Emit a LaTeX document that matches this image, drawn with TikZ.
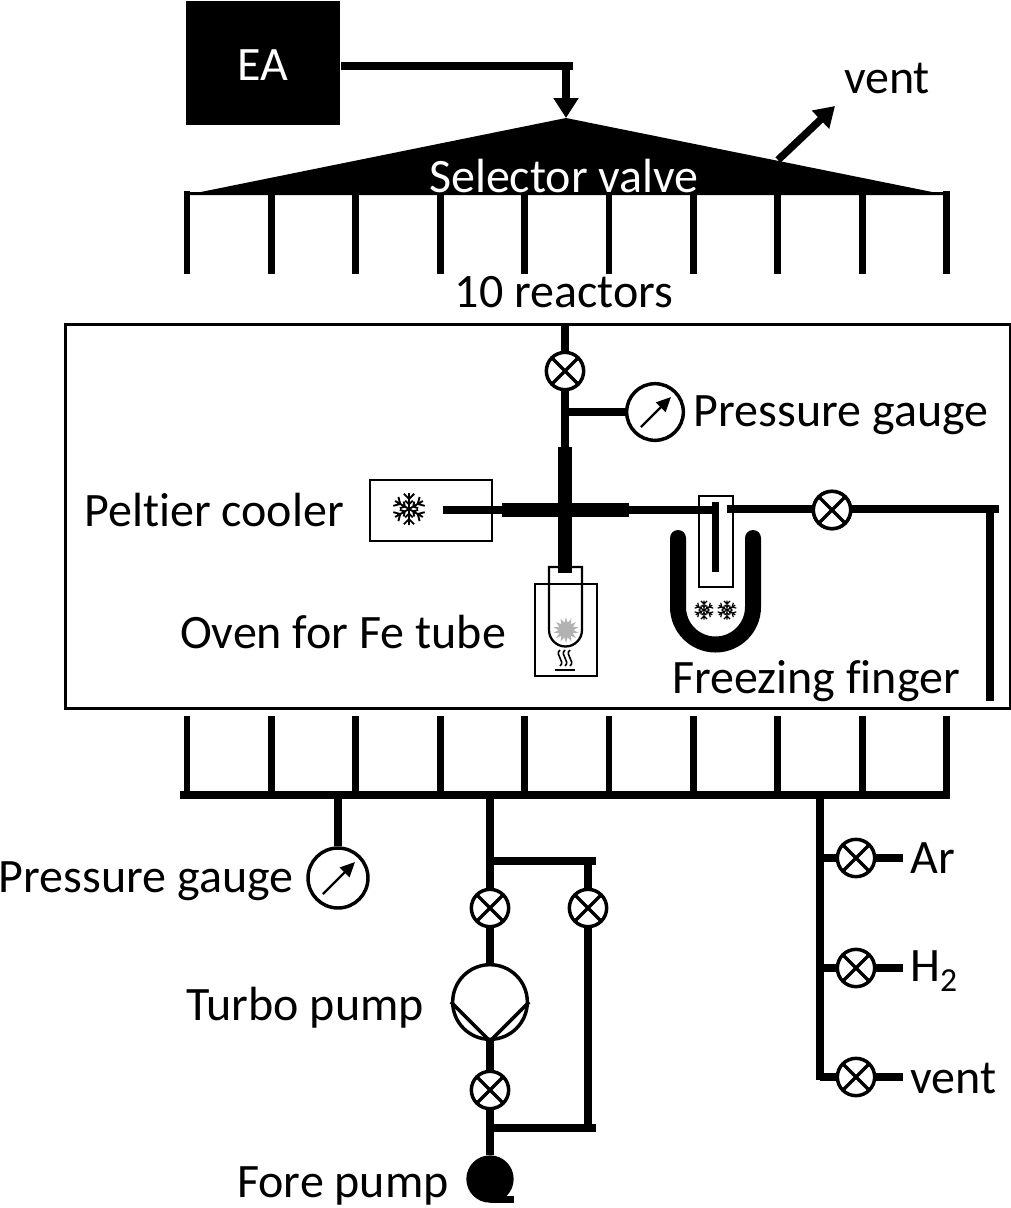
\documentclass[tikz,border=0pt]{standalone}
\usepackage{fontspec}
\setmainfont{Carlito}[Ligatures=NoCommon]
\usetikzlibrary{arrows.meta,calc,shapes.geometric}
\tikzset{
  lbl/.style={inner sep=0pt,font=\fontsize{36}{40}\selectfont},
  pipe/.style={line width=5.6pt,black},
  comb/.style={line width=5.2pt,black},
  fat pipe/.style={line width=10pt,black},
  valve/.style={circle,draw,line width=2.6pt,minimum size=28pt,inner sep=0pt,fill=white,
    path picture={\draw[line width=2.6pt] (path picture bounding box.north west)--(path picture bounding box.south east)
      (path picture bounding box.north east)--(path picture bounding box.south west);}},
  gauge/.style={circle,draw,line width=2.6pt,inner sep=0pt,fill=white},
  smallbox/.style={draw,line width=1.7pt,inner sep=0pt,anchor=north west},
  needle/.style={-{Triangle[length=11pt,width=10pt]},line width=1.8pt},
  bigtip/.style={-{Triangle[length=15pt,width=18pt]}},
  pics/snowflake/.style={code={
    \foreach \a in {0,60,...,300}{
      \draw[line width=#1,rotate=\a] (0,0) -- (0,10) (-3.2,9.5) -- (0,6.3) -- (3.2,9.5) (-2.4,5.2) -- (0,3) -- (2.4,5.2);
    }}},
}
\begin{document}
\begin{tikzpicture}[x=0.75pt,y=-0.75pt]
\useasboundingbox (0,0) rectangle (1011,1208);
% EA and selector
\node[fill=black,text=white,anchor=north west,minimum width=115.5pt,minimum height=93pt,inner sep=0pt,text height=25.5pt,text depth=0pt,font=\fontsize{36}{40}\selectfont] (ea) at (186,1) {EA};
\coordinate (eaj) at (566,66);
\coordinate (sv) at (566,118);
\draw[pipe] (ea.east |- eaj) -- (573,66);
\draw[pipe,bigtip] (566,62.5) -- (sv);
\path[fill=black] (186,195) -- (sv) -- (947,195) -- cycle;
\draw[line width=2.4pt] (186,193.5) -- (947,193.5);
\foreach \i in {0,...,9}{
  \draw[comb] ({187+84.4*\i},191) -- ({187+84.4*\i},274);
  \draw[comb] ({187+84.4*\i},716) -- ({187+84.4*\i},795);
}
\node[lbl,text=white] (selector) at (564,176) {Selector valve};
\coordinate (ventfrom) at (778,160);
\coordinate (ventto) at (835,106);
\draw[pipe,bigtip] (ventfrom) -- (ventto);
\node[lbl] (venttop) at (887,78) {vent};
\node[lbl] (reactors) at (564,292) {10 reactors};
% main box
\node[draw,line width=2.4pt,anchor=north west,minimum width=708.5pt,minimum height=288pt,inner sep=0pt] (box) at (64,323) {};
% upper line
\node[valve] (v1) at (565,371) {};
\coordinate (boxtop) at (565,323);
\draw[pipe] (boxtop) -- (v1);
\node[gauge,minimum size=42.5pt] (g1) at (655,412) {};
\draw[needle] ($(g1.center)+(-14,15)$) -- ($(g1.center)+(16,-15)$);
\coordinate (g1j) at (565,412);
\draw[pipe] (v1) -- (g1j);
\draw[pipe] (g1j) -- (g1);
\node[lbl] (pg1) at (841,415) {Pressure gauge};
% cross
\coordinate (cv1) at (565,447);
\coordinate (cv2) at (565,573);
\coordinate (ch1) at (502,510);
\coordinate (ch2) at (629,510);
\draw[pipe] (g1j) -- (cv1);
% peltier
\node[smallbox,minimum width=91.5pt,minimum height=45.75pt] (pelt) at (369,479) {};
\coordinate (peltend) at (443,510);
\draw[line width=5.6pt] (peltend) -- (ch1);
\pic[scale=1.6] at (409,509) {snowflake=1.4pt};
\node[lbl] (peltlabel) at (214,510) {Peltier cooler};
% oven
\node[smallbox,minimum width=46.5pt,minimum height=69pt] (oven) at (534,583) {};
\draw[line width=1.7pt] (549,567) -- (582,567) -- (582,630) arc[start angle=0,end angle=180,radius=16.5] -- cycle;
\draw[fat pipe] (cv1) -- (cv2);
\draw[fat pipe] (ch1) -- (ch2);
\node[star,star points=14,star point ratio=1.7,fill=black!30,minimum size=19pt,inner sep=0pt] (dust) at (566,630) {};
\foreach \dx in {-5,0,5}{
  \draw[line width=1.2pt] ({565+\dx},650) .. controls ({559+\dx},655) and ({571+\dx},661) .. ({565+\dx},666);
}
\draw[line width=1.5pt] (555,670) -- (575,670);
\node[lbl] (ovenlabel) at (343,632) {Oven for Fe tube};
% freezing finger
\draw[line width=12pt,line cap=round] (678,538) -- (678,607) arc[start angle=180,end angle=0,radius=37.5] -- (753,538);
\node[smallbox,fill=white,minimum width=25.5pt,minimum height=68pt] (trap) at (698,495) {};
\coordinate (trapin) at (715.5,510);
\draw[pipe] (ch2) -- (trapin);
\draw[line width=5.4pt] (715.5,502) -- (715.5,572);
\node[valve] (v2) at (832,510) {};
\coordinate (trapout) at (727,509);
\coordinate (rightc) at (999,509);
\coordinate (rightb) at (990,701);
\draw[pipe] (trapout) -- (trapout -| v2) -- (rightc);
\node[valve] at (v2) {};
\draw[pipe] (rightc -| rightb) -- (rightb);
\pic[scale=0.95] at (704,610) {snowflake=0.9pt};
\pic[scale=0.95] at (727,610) {snowflake=0.9pt};
\node[lbl] (fflabel) at (816,681) {Freezing finger};
% manifold
\coordinate (mL) at (180,795);
\coordinate (mR) at (950,795);
\draw[pipe] (mL) -- (mR);
% gauge 2
\node[gauge,minimum size=45pt] (g2) at (338,878) {};
\draw[needle] ($(g2.center)+(-15,16)$) -- ($(g2.center)+(17,-16)$);
\draw[pipe] (338,795) -- (g2);
\node[lbl] (pg2) at (146,881) {Pressure gauge};
% pumps
\node[valve] (v3) at (490,908) {};
\node[valve] (v4) at (588,908) {};
\node[gauge,minimum size=56pt] (tp) at (490,1002) {};
\node[valve] (v5) at (490,1090) {};
\coordinate (j1) at (490,861);
\coordinate (j1r) at (596,861);
\coordinate (j2) at (490,1128);
\coordinate (j2r) at (596,1128);
\draw[pipe] (490,795) -- (j1);
\draw[pipe] (j1) -- (v3);
\draw[pipe] (j1) -- (j1r);
\draw[pipe] (588,861) -- (v4);
\draw[pipe] (v3) -- (tp.north);
\draw[pipe] (v4) -- (588,1128);
\draw[pipe] (tp.south) -- (v5);
\draw[pipe] (v5) -- (j2);
\draw[pipe] (j2) -- (j2r);
\draw[line width=2.6pt] (tp.west) -- (tp.south) -- (tp.east);
\node[circle,fill=black,minimum size=35.5pt,inner sep=0pt] (fp) at (490,1179) {};
\fill[black] (490,1196) rectangle (514,1203);
\draw[pipe] (j2) -- (fp);
\node[lbl] (tplabel) at (305,1008) {Turbo pump};
\node[lbl] (fplabel) at (343,1186) {Fore pump};
% gas lines
\node[valve] (v6) at (856,858) {};
\node[valve] (v7) at (856,968) {};
\node[valve] (v8) at (856,1077) {};
\draw[pipe] (820,795) -- (820,1080);
\foreach \v/\y in {v6/858,v7/968,v8/1077}{
  \draw[pipe] (820,\y) -- (\v);
  \draw[pipe] (\v) -- (903,\y);
}
\node[lbl,anchor=west] (ar) at (910,858) {Ar};
\node[lbl,anchor=west] (h2) at (910,971) {H\textsubscript{2}};
\node[lbl,anchor=west] (vent2) at (910,1078) {vent};
\end{tikzpicture}
\end{document}
